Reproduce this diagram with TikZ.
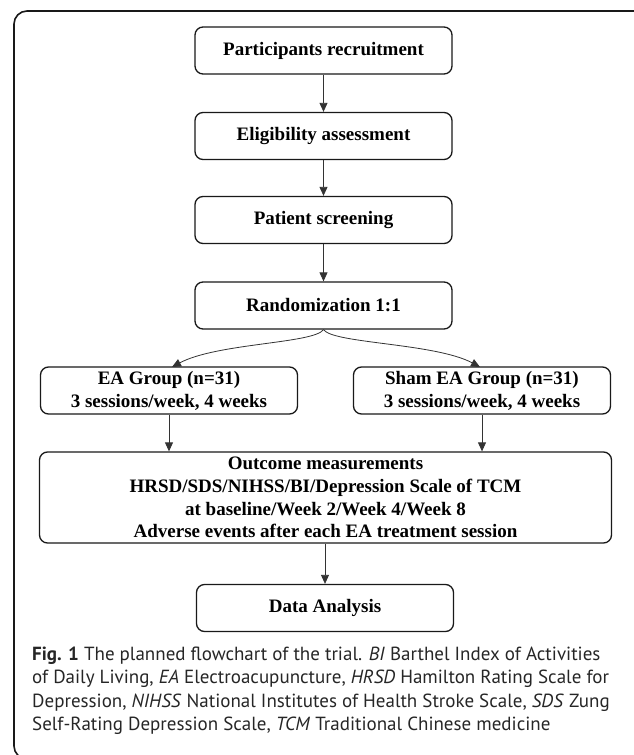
\documentclass[tikz,border=0pt]{standalone}
\usepackage{fontspec}
\setmainfont{Liberation Serif}
\newfontfamily\capfont{PT Sans}
\usetikzlibrary{arrows.meta}
\begin{document}
\begin{tikzpicture}[x=1pt,y=-1pt,
  box/.style={draw=black!90, line width=1.3pt, rounded corners=8pt, minimum width=257pt, minimum height=47pt, inner sep=0pt, align=center, font=\fontsize{19}{23}\selectfont\bfseries},
  arr/.style={draw=black!80, line width=0.8pt, -{Triangle[length=9pt,width=8pt]}},
  captext/.style={anchor=base west, inner sep=0pt, text=black!85, font=\capfont\fontsize{19}{24}\selectfont}]
\useasboundingbox (0,0) rectangle (633,755);
\draw[line width=1.6pt, rounded corners=13pt, draw=black!90] (14,11) rectangle (660,759);
\node[box] (rec) at (323.5,50.5) {Participants recruitment};
\node[box] (eli) at (323.5,136) {Eligibility assessment};
\node[box] (scr) at (323.5,220) {Patient screening};
\node[box] (ran) at (323.5,305.5) {Randomization 1:1};
\node[box] (ea) at (169,390.5) {EA Group (n=31)\\3 sessions/week, 4 weeks};
\node[box] (sham) at (482,390.5) {Sham EA Group (n=31)\\3 sessions/week, 4 weeks};
\node[box, minimum width=572pt, minimum height=91pt, font=\fontsize{19}{22.7}\selectfont\bfseries] (out) at (325.5,497.5) {Outcome measurements\\HRSD/SDS/NIHSS/BI/Depression Scale of TCM\\at baseline/Week 2/Week 4/Week 8\\Adverse events after each EA treatment session};
\node[box] (dat) at (325,608) {Data Analysis};
\coordinate (eatip) at (172,367);
\coordinate (shamtip) at (480,367);
\draw[arr] (rec) -- (eli);
\draw[arr] (eli) -- (scr);
\draw[arr] (scr) -- (ran);
\draw[arr] (ran.south) .. controls +(-10,14) and +(45,-24) .. (eatip);
\draw[arr] (ran.south) .. controls +(10,14) and +(-45,-24) .. (shamtip);
\draw[arr] (ea.south) -- (ea.south |- out.north);
\draw[arr] (sham.south) -- (sham.south |- out.north);
\draw[arr] (out.south -| dat.north) -- (dat.north);
\node[captext] (c1) at (32,660) {\textbf{Fig. 1} The planned flowchart of the trial. \textit{BI} Barthel Index of Activities};
\node[captext] (c2) at (32,683.5) {of Daily Living, \textit{EA} Electroacupuncture, \textit{HRSD} Hamilton Rating Scale for};
\node[captext] (c3) at (32,707) {Depression, \textit{NIHSS} National Institutes of Health Stroke Scale, \textit{SDS} Zung};
\node[captext] (c4) at (32,730.5) {Self-Rating Depression Scale, \textit{TCM} Traditional Chinese medicine};
\end{tikzpicture}
\end{document}
